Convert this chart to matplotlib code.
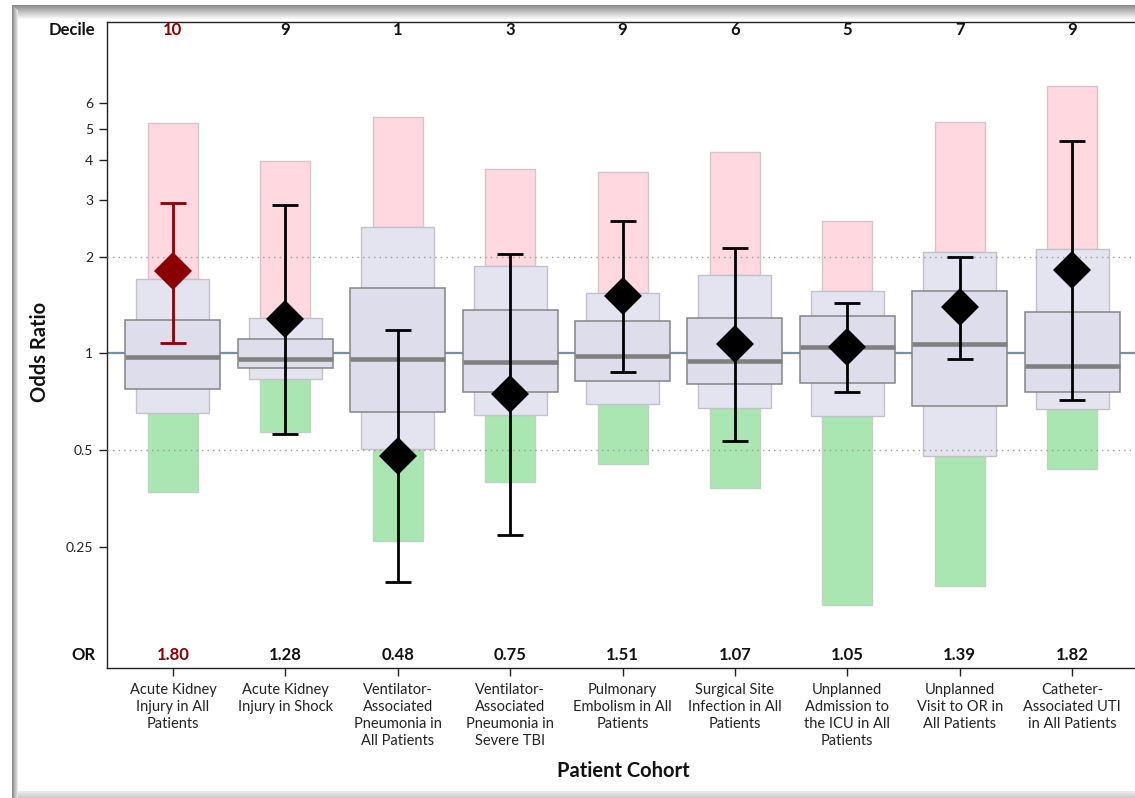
import numpy as np
import matplotlib
matplotlib.use("Agg")
import matplotlib.pyplot as plt
from matplotlib.patches import Rectangle

plt.rcParams['font.family'] = ['Lato', 'DejaVu Sans']

cohorts = [
    "Acute Kidney\nInjury in All\nPatients",
    "Acute Kidney\nInjury in Shock",
    "Ventilator-\nAssociated\nPneumonia in\nAll Patients",
    "Ventilator-\nAssociated\nPneumonia in\nSevere TBI",
    "Pulmonary\nEmbolism in All\nPatients",
    "Surgical Site\nInfection in All\nPatients",
    "Unplanned\nAdmission to\nthe ICU in All\nPatients",
    "Unplanned\nVisit to OR in\nAll Patients",
    "Catheter-\nAssociated UTI\nin All Patients",
]
deciles = [10, 9, 1, 3, 9, 6, 5, 7, 9]
odds_ratio = [1.80, 1.28, 0.48, 0.75, 1.51, 1.07, 1.05, 1.39, 1.82]
ci_low = [1.08, 0.56, 0.195, 0.272, 0.875, 0.533, 0.756, 0.960, 0.716]
ci_high = [2.93, 2.89, 1.18, 2.04, 2.585, 2.125, 1.43, 2.00, 4.57]
median = [0.974, 0.962, 0.962, 0.942, 0.979, 0.948, 1.044, 1.069, 0.913]
inner_low = [0.774, 0.902, 0.658, 0.760, 0.820, 0.801, 0.807, 0.686, 0.760]
inner_high = [1.269, 1.108, 1.593, 1.361, 1.263, 1.288, 1.309, 1.566, 1.341]
outer_low = [0.652, 0.832, 0.503, 0.643, 0.695, 0.674, 0.638, 0.478, 0.670]
outer_high = [1.702, 1.285, 2.47, 1.869, 1.543, 1.748, 1.566, 2.066, 2.115]
range_high = [5.21, 3.97, 5.44, 3.74, 3.67, 4.22, 2.579, 5.23, 6.80]
range_low = [0.370, 0.570, 0.260, 0.397, 0.452, 0.380, 0.165, 0.189, 0.436]
highlight = [True, False, False, False, False, False, False, False, False]
yticks = [0.25, 0.5, 1, 2, 3, 4, 5, 6]
ytick_labels = ["0.25", "0.5", "1", "2", "3", "4", "5", "6"]

W, H = 1135, 798
fig = plt.figure(figsize=(W / 100, H / 100), dpi=100)
fig.patch.set_facecolor('white')

# decorative window-like frame (figure fraction coordinates)
def band(x0, y0, w, h, g):
    fig.add_artist(Rectangle((x0 / W, 1 - (y0 + h) / H), w / W, h / H,
                             transform=fig.transFigure, facecolor=(g, g, g),
                             edgecolor='none', lw=0, zorder=-5))

for i in range(14):
    band(12, 5 + i, W, 1, 0.55 + 0.42 * (i / 13))
for j in range(6):
    band(12 + j, 5 + j, 1, H, 0.55 + 0.35 * (j / 5))
for i in range(7):
    band(18, H - 7 + i, W, 1, 0.92 - 0.02 * i)

ax = fig.add_axes([107 / W, 1 - 668 / H, 1.02 - 107 / W, (668 - 22) / H])
x = np.arange(len(cohorts))
dark_red = '#8B0000'

ax.set_yscale('log')
ax.set_ylim(0.1051, 10.72)
ax.set_xlim(-0.587, 8.56 + 0.02 * W / 112.4)

ax.axhline(1, color='#7C8FA2', lw=1.6, zorder=1)
for yv in (2, 0.5):
    ax.axhline(yv, color='#9a9a9a', lw=1.0, ls=(0, (1, 3)), zorder=4)

oh = np.array(outer_high); ol = np.array(outer_low)
ih = np.array(inner_high); il = np.array(inner_low)
rh = np.array(range_high); rl = np.array(range_low)

ax.bar(x, rh - oh, bottom=oh, width=0.445, color='#FFD9DF', edgecolor='#D6C4C8', lw=1.0, zorder=2)
ax.bar(x, ol - rl, bottom=rl, width=0.445, color='#A9E6B1', edgecolor='#BFD3C2', lw=1.0, zorder=2)
ax.bar(x, oh - ol, bottom=ol, width=0.65, color='#E4E4F0', edgecolor='#C2C2CA', lw=1.0, zorder=2.5)
ax.bar(x, ih - il, bottom=il, width=0.845, color='#DDDDEB', edgecolor='#858585', lw=1.1, zorder=3)
ax.hlines(median, x - 0.4225, x + 0.4225, color='#808080', lw=3.3, zorder=3.5)

for xi, o, lo, hi, hl in zip(x, odds_ratio, ci_low, ci_high, highlight):
    c = dark_red if hl else 'black'
    ax.errorbar(xi, o, yerr=[[o - lo], [hi - o]], fmt='none', ecolor=c,
                elinewidth=2.0, capsize=9.7, capthick=2.0, zorder=5)
    ax.plot(xi, o, marker='D', ms=19, color=c, mec=c, mew=0, zorder=6)

ax.set_yticks(yticks)
ax.set_yticklabels(ytick_labels)
ax.yaxis.set_minor_locator(matplotlib.ticker.NullLocator())
ax.set_xticks(x)
ax.set_xticklabels(cohorts, fontsize=10.5, linespacing=1.25)
ax.tick_params(axis='y', length=6, width=1, labelsize=10, colors='#222222', pad=4)
ax.tick_params(axis='x', length=6, width=1, pad=5, colors='#222222')

for s in ('left', 'bottom', 'top'):
    ax.spines[s].set_color('#222222')
    ax.spines[s].set_linewidth(1.0)
ax.spines['right'].set_visible(False)

tx = ax.get_xaxis_transform()
for xi, d, o, hl in zip(x, deciles, odds_ratio, highlight):
    c = dark_red if hl else '#111111'
    ax.text(xi, 0.987, str(d), transform=tx, ha='center', va='center',
            fontsize=12, fontweight='bold', color=c)
    ax.text(xi, 0.020, f"{o:.2f}", transform=tx, ha='center', va='center',
            fontsize=12, fontweight='bold', color=c)
ax_w_px = (1.02 * W - 107)
ax.text(-12 / ax_w_px, 0.987, "Decile", transform=ax.transAxes, ha='right', va='center',
        fontsize=12, fontweight='bold', color='#111111')
ax.text(-12 / ax_w_px, 0.020, "OR", transform=ax.transAxes, ha='right', va='center',
        fontsize=12, fontweight='bold', color='#111111')

fig.text(623 / W, 1 - 771 / H, "Patient Cohort", ha='center', va='center',
         fontsize=14.5, fontweight='bold', color='#111111')
fig.text(40 / W, 1 - 352 / H, "Odds Ratio", ha='center', va='center', rotation=90,
         fontsize=14.5, fontweight='bold', color='#111111')

fig.savefig('out.png', dpi=100)
